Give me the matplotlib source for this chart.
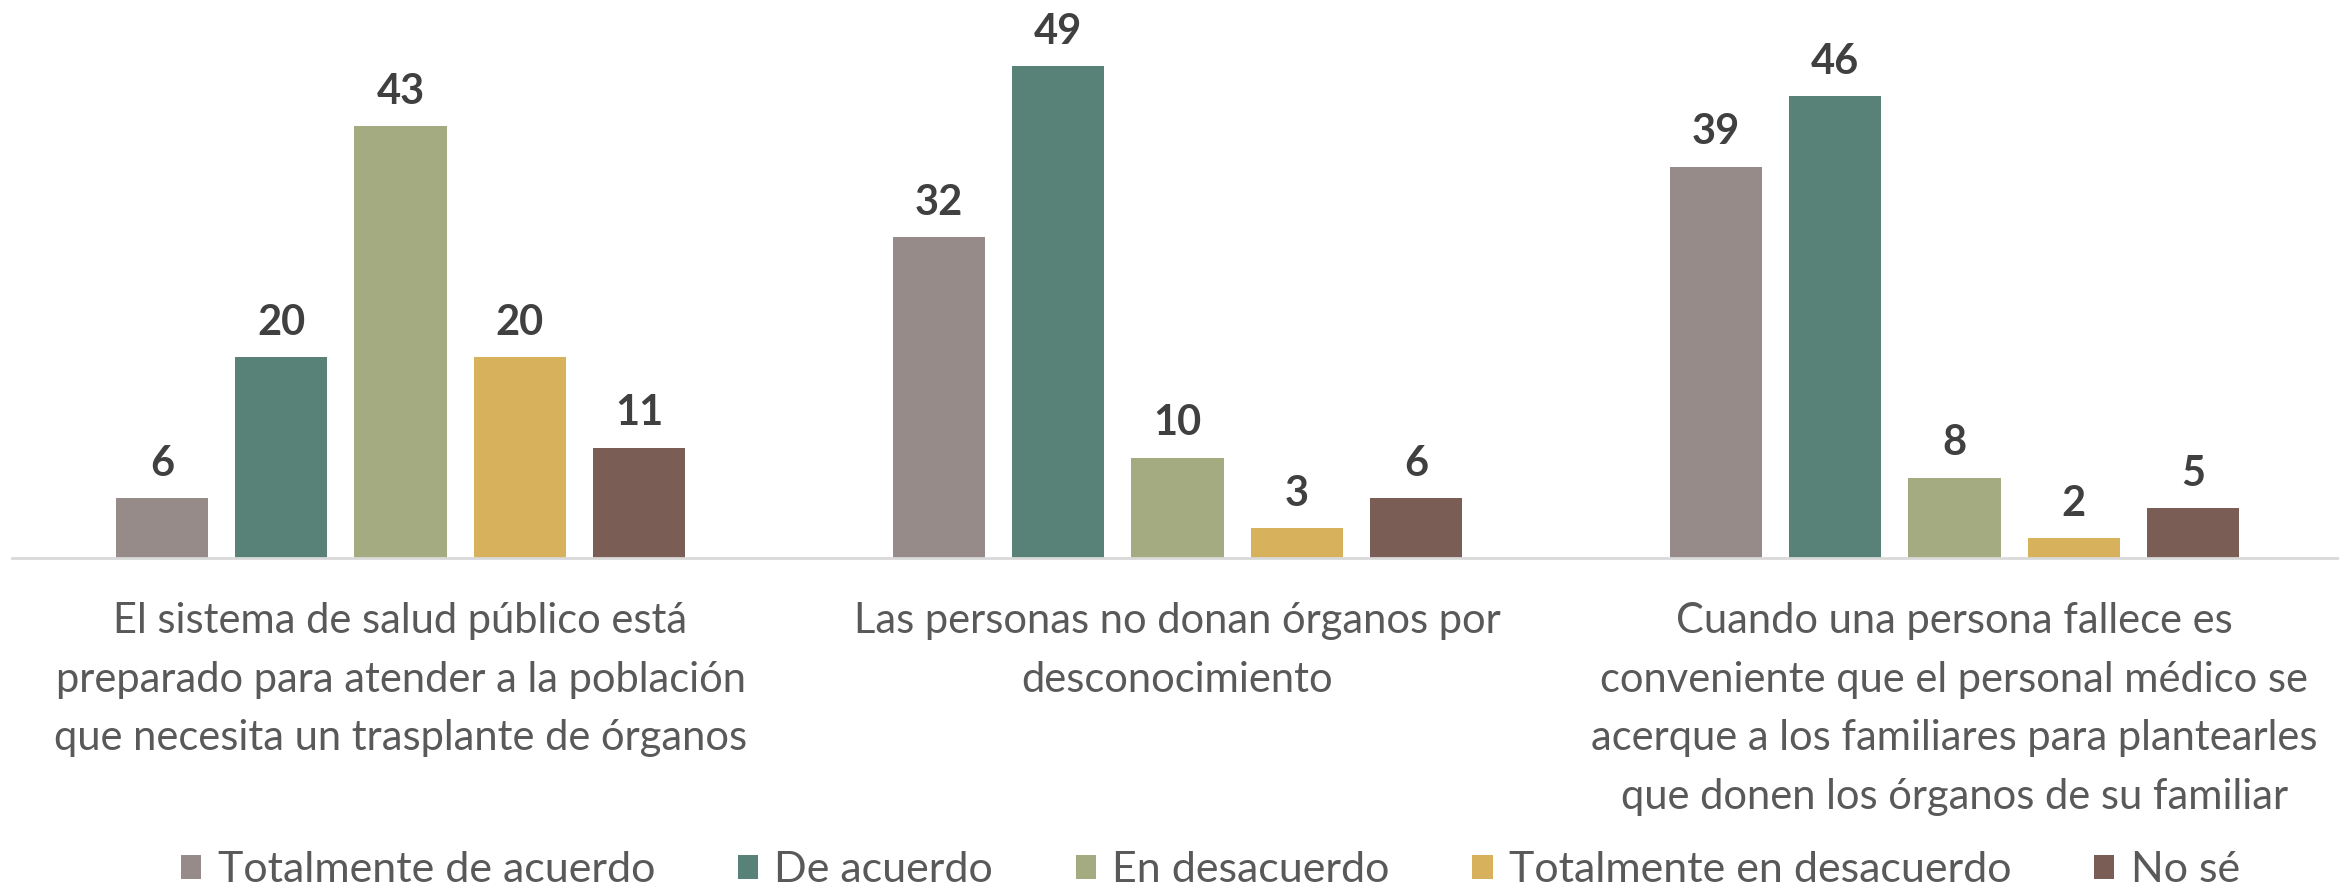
import matplotlib
matplotlib.use("Agg")
import matplotlib.pyplot as plt
import numpy as np

categories = [
    "El sistema de salud público está\npreparado para atender a la población\nque necesita un trasplante de órganos",
    "Las personas no donan órganos por\ndesconocimiento",
    "Cuando una persona fallece es\nconveniente que el personal médico se\nacerque a los familiares para plantearles\nque donen los órganos de su familiar",
]
series_names = ["Totalmente de acuerdo", "De acuerdo", "En desacuerdo",
                "Totalmente en desacuerdo", "No sé"]
values = {
    "Totalmente de acuerdo": [6, 32, 39],
    "De acuerdo": [20, 49, 46],
    "En desacuerdo": [43, 10, 8],
    "Totalmente en desacuerdo": [20, 3, 2],
    "No sé": [11, 6, 5],
}
colors = ["#968B89", "#588178", "#A5AB80", "#D7B15C", "#7A5E55"]

plt.rcParams['font.family'] = ['Lato', 'DejaVu Sans']

W, H = 2339, 889
fig = plt.figure(figsize=(W / 100, H / 100), dpi=100)
ax = fig.add_axes([12 / W, 331 / H, 2331 / W, 558 / H])

x = np.arange(len(categories))
pitch = 0.1535
width = 0.119
n = len(series_names)
handles = []
for i, (name, c) in enumerate(zip(series_names, colors)):
    off = (i - (n - 1) / 2) * pitch
    b = ax.bar(x + off, values[name], width=width, color=c, label=name, zorder=2)
    ax.bar_label(b, padding=11, fontsize=30, fontweight='bold', color='#404040')
    handles.append(b)

ax.set_xlim(-0.5, 2.5)
ax.set_ylim(0, 55.6)
ax.set_yticks([])
for s in ['top', 'right', 'left']:
    ax.spines[s].set_visible(False)
ax.spines['bottom'].set_color('#D9D9D9')
ax.spines['bottom'].set_linewidth(2)
ax.set_xticks(x)
ax.set_xticklabels(categories, fontsize=30, color='#595959', linespacing=1.66,
                   va='top')
ax.tick_params(axis='x', length=0, pad=32)

fig.legend(handles=handles, labels=series_names, loc='center',
           bbox_to_anchor=(0.5175, 1 - 870 / H), ncol=5, frameon=False,
           fontsize=31, labelcolor='#595959', handlelength=0.47,
           handleheight=0.47, handletextpad=0.38, columnspacing=1.92)

fig.savefig("out.png", dpi=100)
